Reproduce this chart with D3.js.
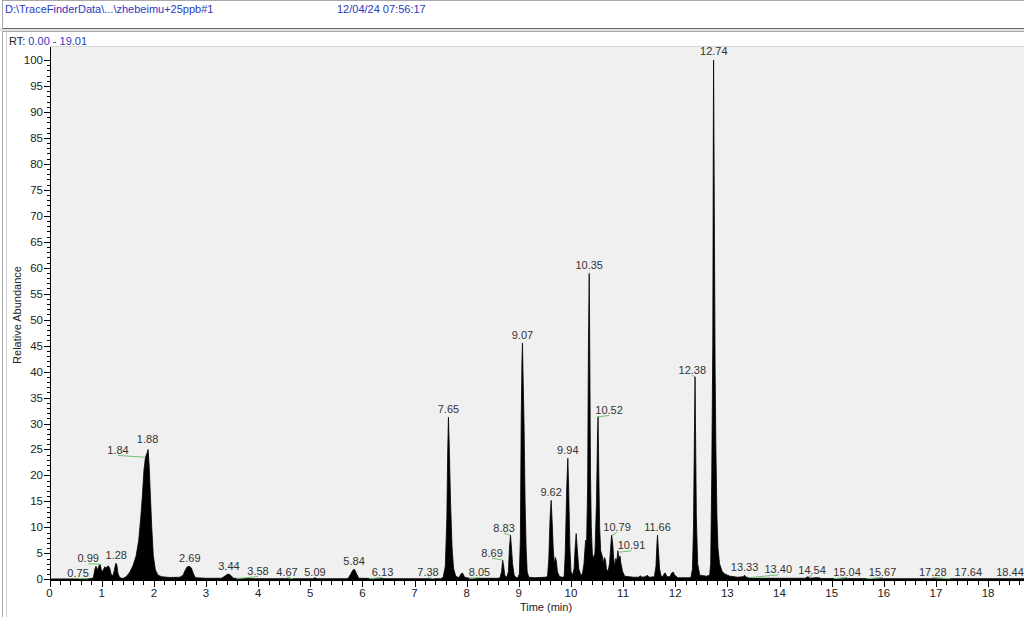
<!DOCTYPE html>
<html><head><meta charset="utf-8">
<script src="https://cdn.jsdelivr.net/npm/d3@7"></script>
<style>
html,body{margin:0;padding:0;background:#fff;}
svg{display:block;font-family:"Liberation Sans",Arial,sans-serif;}
</style></head>
<body>
<svg id="c" width="1024" height="617"></svg>
<script>
// ---------------- DATA ----------------
const fileTitle = "D:\\TraceFinderData\\...\\zhebeimu+25ppb#1";
const acqDate = "12/04/24 07:56:17";
const rtRange = [0.00, 19.01];
const xTicks = [0,1,2,3,4,5,6,7,8,9,10,11,12,13,14,15,16,17,18];
const yTicks = [0,5,10,15,20,25,30,35,40,45,50,55,60,65,70,75,80,85,90,95,100];

// chromatogram trace: retention time (min), relative abundance (%)
const traceRT = [0.00,0.50,0.70,0.80,0.84,0.87,0.89,0.92,0.95,0.97,1.00,1.03,1.06,1.09,1.12,1.15,1.18,1.21,1.24,1.27,1.29,1.31,1.34,1.38,1.42,1.48,1.54,1.60,1.66,1.71,1.75,1.78,1.81,1.84,1.87,1.89,1.91,1.93,1.96,1.99,2.03,2.08,2.15,2.30,2.50,2.56,2.60,2.64,2.68,2.72,2.76,2.80,3.00,3.30,3.36,3.40,3.44,3.48,3.53,4.00,5.05,5.09,5.13,5.72,5.77,5.82,5.85,5.88,5.93,6.50,7.50,7.55,7.59,7.62,7.635,7.65,7.665,7.69,7.72,7.75,7.79,7.85,7.89,7.92,7.96,8.05,8.60,8.64,8.67,8.69,8.71,8.73,8.77,8.80,8.82,8.84,8.86,8.88,8.91,8.95,8.98,9.01,9.03,9.045,9.06,9.07,9.08,9.10,9.12,9.14,9.16,9.19,9.30,9.50,9.55,9.575,9.60,9.62,9.64,9.66,9.68,9.70,9.72,9.74,9.78,9.84,9.87,9.89,9.92,9.94,9.955,9.98,10.00,10.03,10.06,10.08,10.10,10.12,10.15,10.19,10.22,10.25,10.28,10.30,10.32,10.335,10.35,10.36,10.375,10.39,10.41,10.43,10.46,10.49,10.51,10.52,10.535,10.55,10.57,10.60,10.62,10.64,10.66,10.68,10.71,10.74,10.76,10.78,10.80,10.82,10.84,10.86,10.88,10.90,10.92,10.94,10.96,10.99,11.03,11.20,11.30,11.33,11.36,11.43,11.46,11.50,11.60,11.63,11.65,11.66,11.675,11.70,11.73,11.76,11.79,11.81,11.84,11.90,11.93,11.96,11.99,12.05,12.30,12.33,12.35,12.37,12.38,12.39,12.405,12.43,12.47,12.60,12.66,12.68,12.70,12.72,12.73,12.735,12.74,12.75,12.765,12.78,12.80,12.82,12.85,12.90,12.95,13.05,13.20,13.30,13.33,13.36,13.50,14.50,14.54,14.58,14.70,14.75,14.80,16.00,18.00,19.01];
const traceAbund = [0.05,0.05,0.10,0.15,0.3,2.0,2.5,1.8,2.6,2.9,1.4,1.8,2.4,2.2,2.6,2.3,1.0,0.6,1.6,3.1,2.8,1.2,0.4,0.2,0.2,0.6,1.4,2.6,4.5,7.5,12,16,21,23.5,24.3,25,22,17,10,4.5,1.8,0.8,0.5,0.35,0.4,0.8,1.7,2.4,2.5,2.2,1.0,0.3,0.2,0.2,0.6,0.9,1.0,0.7,0.2,0.1,0.1,0.3,0.1,0.1,0.9,1.8,1.9,1.2,0.2,0.1,0.1,0.4,2.5,12,24,31.2,26,15,6,2,0.6,0.3,1.0,1.2,0.4,0.2,0.2,0.3,1.5,3.7,2.5,0.8,0.4,1.5,6,8.5,6,3,0.8,0.3,0.3,1,8,30,42,45.5,40,30,15,6,1.5,0.4,0.3,0.4,0.5,4,12,15.2,11,6,3,4.2,3.5,1.5,0.5,0.4,0.5,5,18,23.3,18,6,1.5,0.8,2,6,8.8,6,2,0.8,1,3,7.5,7,18,45,58.9,45,20,10,5,4,5,15,28,31.3,20,10,5.5,4.5,3,4.2,3.8,2,1.5,3,6,8.5,7,4,2.5,4,3.5,5.5,4,4.5,3,1.5,0.6,0.4,0.4,0.7,0.4,0.5,0.8,0.4,0.5,2.5,7,8.5,6,2,0.6,0.5,1.1,1.2,0.5,0.5,1.2,1.4,0.8,0.3,0.3,2,10,30,39,28,12,3,0.8,0.6,0.8,3,20,45,85,100,92,70,40,25,12,6,3,1.5,1,0.6,0.4,0.5,0.8,0.4,0.2,0.2,0.5,0.2,0.3,0.3,0.15,0.1,0.1,0.1];

// labelled peaks
const peakRT    = [0.75,0.99,1.28,1.84,1.88,2.69,3.44,3.58,4.67,5.09,5.84,6.13,7.38,7.65,8.05,8.69,8.83,9.07,9.62,9.94,10.35,10.52,10.79,10.91,11.66,12.38,12.74,13.33,13.40,14.54,15.04,15.67,17.28,17.64,18.44];
const peakApex  = [0.1,2.9,3.1,23.5,25,2.5,1.0,0.1,0.1,0.3,1.9,0.1,0.1,31.2,0.1,3.7,8.5,45.5,15.2,23.3,58.9,31.3,8.5,5.2,8.5,39,100,0.8,0.3,0.5,0.1,0.1,0.1,0.1,0.1];

// ---------------- LAYOUT / STYLE ----------------
// label displacement (px) for labels drawn away from their peak (with green leader)
const labelShift = {
  "0.75":[-10.6,2.2,true],"0.99":[-13,2,true],"1.84":[-27.5,0.7,true],"1.88":[0,-2,false],
  "3.58":[21.8,0.2,true],"4.67":[-6,1,true],"5.09":[0,2,false],"6.13":[13.4,1.2,true],
  "7.38":[-6.3,1.2,true],"8.05":[10.2,1.2,true],"8.69":[-10.6,0.6,true],"8.83":[-5.9,0.5,true],
  "10.52":[11,1.2,true],"10.79":[4.9,-0.5,true],"10.91":[13.1,1,true],"12.38":[-2.7,1.2,true],
  "12.74":[0,-1,false],"13.40":[30,-0.4,true],"14.54":[4.4,1.3,true],"15.04":[13.3,1.2,true],
  "15.67":[16,1.2,true],"17.28":[-17.8,1.2,true],"17.64":[-1,1.2,false],"18.44":[-1,1.2,false]
};

const svg = d3.select("#c");
const W = 1024, H = 617;
const plot = {left:50, top:47, bottom:579.5};

// frames
svg.append("rect").attr("x",0).attr("y",0).attr("width",W).attr("height",H).attr("fill","#fff");
svg.append("rect").attr("x",0).attr("y",28).attr("width",W).attr("height",3).attr("fill","#e3e3e3");
svg.append("line").attr("x1",2.5).attr("x2",W).attr("y1",0.5).attr("y2",0.5).attr("stroke","#a8a8a8");
svg.append("line").attr("x1",2.5).attr("x2",W).attr("y1",28.5).attr("y2",28.5).attr("stroke","#666");
svg.append("line").attr("x1",2.5).attr("x2",2.5).attr("y1",0).attr("y2",28).attr("stroke","#a8a8a8");
svg.append("line").attr("x1",2.5).attr("x2",W).attr("y1",31.5).attr("y2",31.5).attr("stroke","#a8a8a8");
svg.append("line").attr("x1",2.5).attr("x2",2.5).attr("y1",31).attr("y2",H).attr("stroke","#a8a8a8");
svg.append("line").attr("x1",6.5).attr("x2",6.5).attr("y1",32).attr("y2",H).attr("stroke","#d0d0d0");

// header texts
svg.append("text").attr("x",5).attr("y",13).attr("font-size",11).attr("fill","#2a3ac0").text(fileTitle);
svg.append("text").attr("x",337).attr("y",13).attr("font-size",11).attr("fill","#2a3ac0").text(acqDate);
const rt = svg.append("text").attr("x",9).attr("y",45).attr("font-size",11);
rt.append("tspan").attr("fill","#222").text("RT: ");
rt.append("tspan").attr("fill","#2a3ac0").text(rtRange[0].toFixed(2)+" - "+rtRange[1].toFixed(2));

// plot background
svg.append("rect").attr("x",plot.left).attr("y",plot.top).attr("width",W-plot.left).attr("height",plot.bottom-plot.top).attr("fill","#f0f0f0");
svg.append("line").attr("x1",plot.left).attr("x2",W).attr("y1",plot.top-0.5).attr("y2",plot.top-0.5).attr("stroke","#d6d6d6");

// scales
const x = d3.scaleLinear().domain(rtRange).range([49.56, 49.56 + 19.01*52.14]);
const y = d3.scaleLinear().domain([0,100]).range([579.3, 60]);

svg.append("clipPath").attr("id","clip").append("rect")
  .attr("x",plot.left).attr("y",plot.top).attr("width",W-plot.left).attr("height",plot.bottom-plot.top+1);

// trace
const trace = traceRT.map((t,i)=>[t, traceAbund[i]]);
const area = d3.area().x(d=>x(d[0])).y0(y(0)).y1(d=>y(d[1]));
svg.append("path").datum(trace).attr("clip-path","url(#clip)")
  .attr("d",area).attr("fill","#000").attr("stroke","#000").attr("stroke-width",0.8).attr("stroke-linejoin","round");

// y axis
const yMinor = d3.range(0,101,1);
const yAx = svg.append("g").attr("transform",`translate(${plot.left},0)`);
yAx.append("line").attr("x1",0.5).attr("x2",0.5).attr("y1",plot.top).attr("y2",580).attr("stroke","#000");
yAx.selectAll("line.mn").data(yMinor).join("line").attr("class","mn")
  .attr("x1",0).attr("x2",d=>d%5===0?-6:-3).attr("y1",d=>Math.round(y(d))+0.5).attr("y2",d=>Math.round(y(d))+0.5).attr("stroke","#000");
yAx.selectAll("text").data(yTicks).join("text")
  .attr("x",-7).attr("y",d=>y(d)+4).attr("text-anchor","end").attr("font-size",11.5).attr("fill","#222").text(d=>d);

// x axis
const xMinor = d3.range(0,95).map(i=>i*0.2);
const xAx = svg.append("g");
xAx.append("line").attr("x1",plot.left).attr("x2",W).attr("y1",580).attr("y2",580).attr("stroke","#000").attr("stroke-width",1.8);
xAx.selectAll("line.mn").data(xMinor.filter(d=>x(d)<W)).join("line").attr("class","mn")
  .attr("x1",d=>Math.round(x(d))+0.5).attr("x2",d=>Math.round(x(d))+0.5)
  .attr("y1",580).attr("y2",d=>Math.abs(d-Math.round(d))<1e-6?587:585).attr("stroke","#000");
xAx.selectAll("text").data(xTicks).join("text")
  .attr("x",d=>x(d)).attr("y",597).attr("text-anchor","middle").attr("font-size",11.5).attr("fill","#222").text(d=>d);

// axis titles
svg.append("text").attr("x",546).attr("y",611).attr("text-anchor","middle").attr("font-size",11).attr("fill","#222").text("Time (min)");
svg.append("text").attr("transform","translate(21,315) rotate(-90)").attr("text-anchor","middle").attr("font-size",11).attr("fill","#222").text("Relative Abundance");

// peak labels
const lbl = svg.append("g");
peakRT.forEach((t,i)=>{
  const txt = t.toFixed(2);
  const px = x(t), py = y(peakApex[i]);
  const s = labelShift[txt] || [0,0,false];
  const lx = px + s[0], ly = py - 4 + s[1];
  if (s[2]) {
    lbl.append("line").attr("x1",lx).attr("y1",ly+1.5).attr("x2",px).attr("y2",py)
      .attr("stroke","#6cc46c").attr("stroke-width",1);
  }
  lbl.append("text").attr("x",lx).attr("y",ly).attr("text-anchor","middle")
    .attr("font-size",11).attr("fill","#333").text(txt);
});
</script>
</body></html>
